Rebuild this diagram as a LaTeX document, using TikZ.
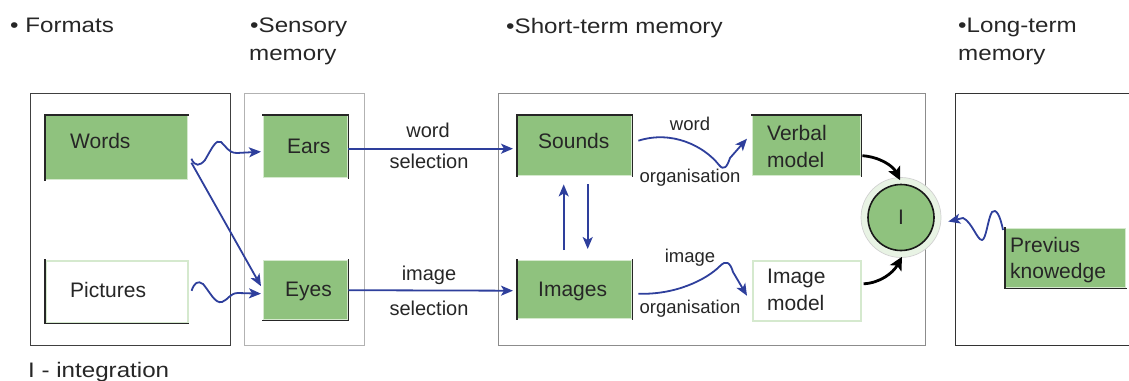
\documentclass[tikz,border=0pt]{standalone}
\usepackage{fontspec}
\setmainfont{Liberation Sans}
\usetikzlibrary{arrows.meta,calc}
\definecolor{boxgreen}{HTML}{8FC27E}
\definecolor{paleg}{HTML}{D5E9CE}
\definecolor{flowblue}{HTML}{2E3F9C}
\definecolor{ink}{HTML}{262626}

\begin{document}
\begin{tikzpicture}[x=1pt,y=-1pt,
  panel/.style={draw=#1, line width=1.4pt, fill=none, inner sep=0pt, anchor=north west},
  card/.style={fill=boxgreen, draw=paleg, line width=1.4pt, inner sep=0pt, anchor=north west},
  blank/.style={fill=white, draw=paleg, line width=1.6pt, inner sep=0pt, anchor=north west},
  rim/.style={draw=black!85, line width=1.7pt, line cap=rect},
  txt/.style={font=\fontsize{21}{25}\selectfont, text=ink, inner sep=0pt, anchor=base west},
  head/.style={font=\fontsize{21}{25}\selectfont, text=ink, inner sep=0pt, anchor=base west},
  sellabel/.style={font=\fontsize{20}{24}\selectfont, text=ink, inner sep=0pt, anchor=base},
  orglabel/.style={font=\fontsize{18.5}{22}\selectfont, text=ink, inner sep=0pt, anchor=base},
  flow/.style={draw=flowblue, line width=1.8pt, -{Stealth[length=12pt,width=10pt,inset=3pt]}},
  merge/.style={draw=black, line width=2.8pt, -{Stealth[length=13pt,width=13pt,inset=3pt]}}
]
\useasboundingbox (0,0) rectangle (1129,380);

% headings
\node[head] (hform) at (10,32) {\scalebox{1.15}[1]{• Formats}};
\node[head] (hsens) at (250,32) {\scalebox{1.15}[1]{•Sensory}};
\node[head] (hsens2) at (249,60) {\scalebox{1.15}[1]{memory}};
\node[head] (hshort) at (506,33) {\scalebox{1.15}[1]{•Short-term memory}};
\node[head] (hlong) at (958,32) {\scalebox{1.15}[1]{•Long-term}};
\node[head] (hlong2) at (958,60) {\scalebox{1.15}[1]{memory}};
\node[head] (legend) at (28,377) {\scalebox{1.15}[1]{I - integration}};

% stage panels
\node[panel=black!75, minimum width=200pt, minimum height=252pt] (formats) at (30,93) {};
\node[panel=black!30, line width=1.2pt, minimum width=120pt, minimum height=252pt] (sensory) at (244,93) {};
\node[panel=black!45, line width=1.2pt, minimum width=427pt, minimum height=252pt] (short) at (498,93) {};
\node[panel=black!80, minimum width=190pt, minimum height=252pt] (long) at (955,93) {};

% cards
\node[card, minimum width=142pt, minimum height=64pt] (words) at (45,115) {};
\node[blank, minimum width=142pt, minimum height=62pt] (pictures) at (45,260) {};
\node[card, minimum width=84pt, minimum height=62pt] (ears) at (263,115) {};
\node[card, minimum width=84pt, minimum height=59pt] (eyes) at (263,260) {};
\node[card, minimum width=114pt, minimum height=60pt] (sounds) at (517,115) {};
\node[card, minimum width=114pt, minimum height=58pt] (images) at (517,260) {};
\node[card, minimum width=108pt, minimum height=60pt] (verbal) at (752,115) {};
\node[blank, minimum width=108pt, minimum height=60pt] (imodel) at (752,260) {};
\node[card, minimum width=120pt, minimum height=59pt] (previus) at (1005,228) {};

% dark card edges
\draw[rim] (words.south west) -- (words.north west) -- (words.north east);
\draw[rim] (pictures.north west) -- (pictures.south west) -- (pictures.south east);
\draw[rim] (ears.north west) -- (ears.north east) -- (ears.south east);
\draw[rim] (eyes.north east) -- (eyes.south east) -- (eyes.south west);
\draw[rim] (sounds.south west) -- (sounds.north west) -- (sounds.north east) -- (sounds.south east);
\draw[rim] (images.north west) -- (images.south west);
\draw[rim] (images.north east) -- (images.south east);
\draw[rim] (verbal.north west) -- (verbal.north east) -- (verbal.south east);
\draw[rim] (previus.north west) -- (previus.south west) -- (previus.south east);

% card texts
\node[txt] (twords) at (70,148) {Words};
\node[txt] (tpict) at (70,297) {Pictures};
\node[txt] (tears) at (287,153) {Ears};
\node[txt] (teyes) at (285,296) {Eyes};
\node[txt] (tsounds) at (538,148) {Sounds};
\node[txt] (timages) at (538,296) {Images};
\node[txt] (tverb1) at (767,140) {Verbal};
\node[txt] (tverb2) at (767,167) {model};
\node[txt] (timod1) at (767,283) {Image};
\node[txt] (timod2) at (767,310) {model};
\node[txt] (tprev1) at (1010,252) {Previus};
\node[txt] (tprev2) at (1010,278) {knowedge};

% integration node with its faint halo
\node[circle, fill=paleg!55, draw=black!18, line width=0.7pt, minimum size=80pt, inner sep=0pt] (ring) at (901,217.5) {};
\node[circle, fill=boxgreen, draw=black!90, line width=1.6pt, minimum size=66pt, inner sep=0pt,
      font=\fontsize{21}{25}\selectfont, text=ink] (integ) at (901,217.5) {I};

% selection arrows and labels
\draw[flow] ([shift={(0,2)}]ears.east) -- ([shift={(-4,3)}]sounds.west);
\draw[flow] (eyes.east) -- ([shift={(-4,1)}]images.west);
\node[sellabel] (lword) at (428,137) {word};
\node[sellabel] (lsel1) at (429,168) {selection};
\node[sellabel] (limage) at (429,280) {image};
\node[sellabel] (lsel2) at (429,315) {selection};

% formats to senses
\draw[flow] ([shift={(3,11)}]words.east)
  .. controls (195,167) and (200,166) .. (205,160)
  .. controls (212,148) and (216,139) .. (221,142)
  .. controls (226,146) and (228,153) .. (237,153)
  -- ([shift={(-2,5)}]ears.west);
\draw[flow] ([shift={(3,15)}]words.east) -- ([shift={(-2,-4)}]eyes.west);
\draw[flow] ([shift={(3,-1)}]pictures.east)
  .. controls (194,283) and (198,280) .. (203,284)
  .. controls (210,292) and (215,304) .. (222,302)
  .. controls (228,300) and (230,293) .. (238,293)
  -- ([shift={(-2,3.5)}]eyes.west);

% exchange between sounds and images
\draw[flow] ([shift={(-11,-10)}]images.north) -- ([shift={(-11,8)}]sounds.south);
\draw[flow] ([shift={(13,8)}]sounds.south) -- ([shift={(13,-11)}]images.north);

% organisation arrows and labels
\draw[flow] ([shift={(6,-5)}]sounds.east)
  .. controls (672,130) and (704,146) .. (719,165)
  .. controls (724,171) and (727,167) .. (730,158)
  -- ([shift={(-5,-7)}]verbal.west);
\draw[flow] ([shift={(6,4)}]images.east)
  .. controls (675,295) and (706,280) .. (720,266)
  .. controls (726,260) and (730,262) .. (733,272)
  -- ([shift={(-5,5)}]imodel.west);
\node[orglabel] (lword2) at (690,130) {word};
\node[orglabel] (lorg1) at (690,182) {organisation};
\node[orglabel] (limage2) at (690,262) {image};
\node[orglabel] (lorg2) at (690,313) {organisation};

% models into integration
\draw[merge] ([shift={(1,10)}]verbal.east) .. controls (880,157) and (893,166) .. ([shift={(-1,3)}]ring.north);
\draw[merge] ([shift={(2,-7)}]imodel.east) .. controls (880,283) and (893,273) .. ([shift={(1,-1)}]ring.south);

% previous knowledge into integration
\draw[flow] ([shift={(-2,2)}]previus.north west)
  .. controls (1000,215) and (996,208) .. (992,212)
  .. controls (988,218) and (986,240) .. (982,240)
  .. controls (977,240) and (972,222) .. (963,218)
  -- ([shift={(7,4)}]ring.east);
\end{tikzpicture}
\end{document}
